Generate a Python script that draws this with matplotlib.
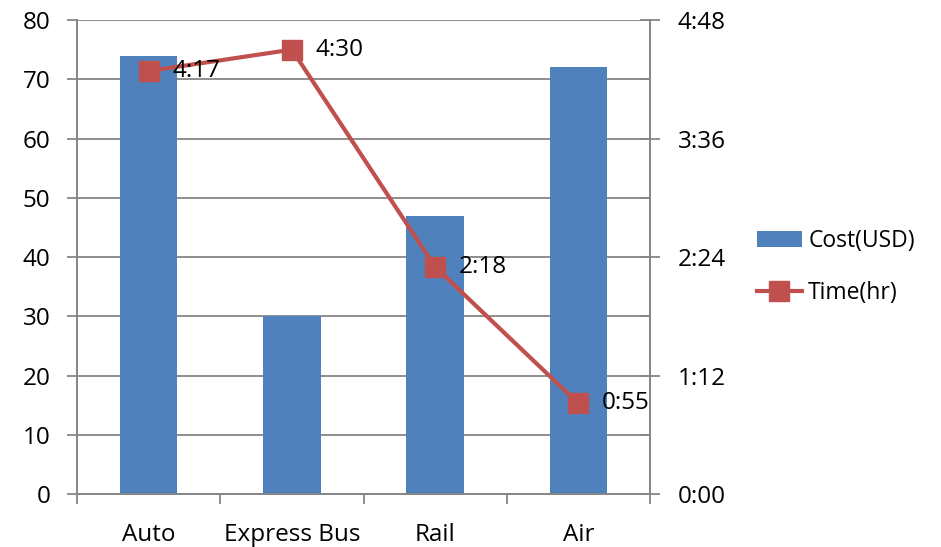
import matplotlib
matplotlib.use("Agg")
import matplotlib.pyplot as plt
from matplotlib.ticker import FuncFormatter, MultipleLocator
import numpy as np

plt.rcParams['font.family'] = ['Open Sans', 'DejaVu Sans']

# --- data ---
modes = ["Auto", "Express Bus", "Rail", "Air"]
cost_usd = [74, 30, 47, 72]
time_min = [257, 270, 138, 55]   # 4:17, 4:30, 2:18, 0:55

bar_col = "#4F81BD"
line_col = "#C0504D"
axis_col = "#868686"
fs = 17.5

def hm(v, pos=None):
    v = int(round(v))
    return f"{v // 60}:{v % 60:02d}"

fig = plt.figure(figsize=(9.41, 5.47), dpi=100)
ax = fig.add_axes([0.0818, 0.0969, 0.609, 0.8665])
x = np.arange(len(modes))

bars = ax.bar(x, cost_usd, width=0.4, color=bar_col, zorder=2, label="Cost(USD)")
ax.set_xlim(-0.5, len(modes) - 0.5)
ax.set_ylim(0, 80)
ax.set_yticks(range(0, 81, 10))
ax.grid(axis="y", color=axis_col, lw=1.3, zorder=0)
ax.set_axisbelow(True)

ax.set_xticks(x)
ax.set_xticklabels(modes, fontsize=fs)
ax.set_xticks(np.arange(-0.5, len(modes)), minor=True)
ax.tick_params(axis="x", which="major", length=0, pad=21)
ax.tick_params(axis="x", which="minor", length=7, width=1.3, color=axis_col)
ax.tick_params(axis="y", labelsize=fs, length=7, width=1.3, color=axis_col, pad=12)

ax.spines["top"].set_visible(False)
for s in ["left", "bottom", "right"]:
    ax.spines[s].set_color(axis_col)
    ax.spines[s].set_linewidth(1.3)

ax2 = ax.twinx()
line, = ax2.plot(x, time_min, color=line_col, lw=3, marker="s", markersize=14,
                 zorder=3, label="Time(hr)")
ax2.set_ylim(0, 288)
ax2.yaxis.set_major_locator(MultipleLocator(72))
ax2.yaxis.set_minor_locator(MultipleLocator(36))
ax2.yaxis.set_major_formatter(FuncFormatter(hm))
ax2.tick_params(axis="y", which="major", labelsize=fs, direction="inout", length=14,
                width=1.3, color=axis_col, pad=13)
ax2.tick_params(axis="y", which="minor", direction="in", length=7, width=1.3, color=axis_col)
ax2.spines["top"].set_visible(False)
for s in ["left", "bottom", "right"]:
    ax2.spines[s].set_color(axis_col)
    ax2.spines[s].set_linewidth(1.3)

for xi, t in zip(x, time_min):
    ax2.annotate(hm(t), (xi, t), xytext=(17, 0), textcoords="offset points",
                 va="center", ha="left", fontsize=fs, zorder=4)

fig.legend([bars, line], ["Cost(USD)", "Time(hr)"], loc="center left",
           bbox_to_anchor=(0.804, 0.512), frameon=False, fontsize=16.5,
           handlelength=2.0, handletextpad=0.25, labelspacing=1.25,
           borderaxespad=0, borderpad=0)

fig.savefig("out.png", dpi=100)
